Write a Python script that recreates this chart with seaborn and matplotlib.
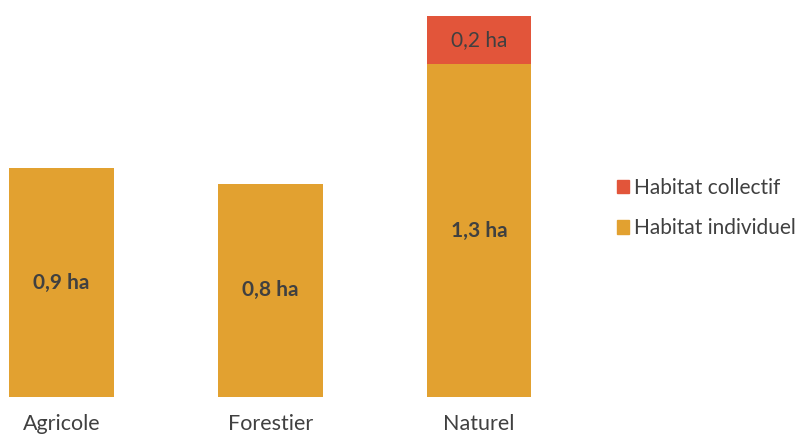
import matplotlib
matplotlib.use("Agg")
import matplotlib.pyplot as plt
import matplotlib.patches as mpatches
import seaborn as sns
import pandas as pd

# Surfaces consommées par type d'espace (ha)
categories = ["Agricole", "Forestier", "Naturel"]
habitat_individuel = [0.90, 0.84, 1.31]
habitat_collectif = [0.0, 0.0, 0.19]
series_names = ["Habitat collectif", "Habitat individuel"]

col_individuel = "#E2A130"
col_collectif = "#E2553A"
text_col = "#404040"

sns.set_theme(style="white")
plt.rcParams["font.family"] = ["Lato", "DejaVu Sans"]

df = pd.DataFrame({
    "categorie": categories,
    "individuel": habitat_individuel,
    "collectif": habitat_collectif,
})

fig = plt.figure(figsize=(8.06, 4.37), dpi=100)
W, H = 806, 437
ax = fig.add_axes([9.3 / W, 40 / H, 522 / W, 381 / H])

sns.barplot(data=df, x="categorie", y="individuel", color=col_individuel,
            width=0.5, saturation=1, ax=ax, linewidth=0)
sns.barplot(data=df, x="categorie", y="collectif", color=col_collectif,
            width=0.5, saturation=1, ax=ax, linewidth=0,
            bottom=df["individuel"])

ax.set_xlim(-0.25, 2.25)
ax.set_ylim(0, 1.5)
ax.set_xlabel("")
ax.set_ylabel("")
ax.set_yticks([])
sns.despine(ax=ax, left=True, bottom=True)
ax.tick_params(axis="x", length=0, pad=12, labelsize=15.5, labelcolor=text_col)


def fmt(v):
    return f"{v:.1f}".replace(".", ",") + " ha"


for i, (ind, coll) in enumerate(zip(habitat_individuel, habitat_collectif)):
    ax.text(i, ind / 2, fmt(ind), ha="center", va="center",
            fontsize=15, fontweight="bold", color=text_col)
    if coll > 0:
        ax.text(i, ind + coll / 2, fmt(coll), ha="center", va="center",
                fontsize=15, color=text_col)

handles = [
    mpatches.Patch(color=col_collectif, label=series_names[0]),
    mpatches.Patch(color=col_individuel, label=series_names[1]),
]
fig.legend(handles=handles, loc="center left",
           bbox_to_anchor=(598 / W, 1 - 208 / H), frameon=False,
           fontsize=15, labelcolor=text_col, handlelength=0.6,
           handleheight=0.6, handletextpad=0.25, labelspacing=1.0)

fig.savefig("out.png", dpi=100, facecolor="white")
